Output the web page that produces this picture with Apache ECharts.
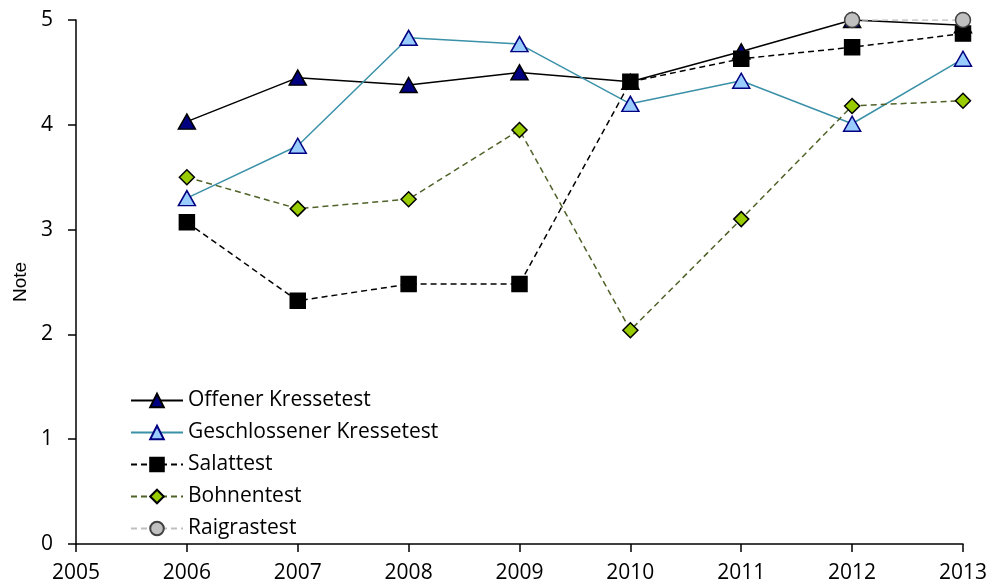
<!DOCTYPE html>
<html>
<head>
<meta charset="utf-8">
<script src="https://cdn.jsdelivr.net/npm/echarts@6/dist/echarts.min.js"></script>
<style>
  html, body { margin: 0; padding: 0; background: #fff; }
  #chart { width: 990px; height: 586px; }
</style>
</head>
<body>
<div id="chart"></div>
<script>
// Jahre und Noten je Testverfahren
var years = [2006, 2007, 2008, 2009, 2010, 2011, 2012, 2013];
var offenerKresse = [4.03, 4.45, 4.38, 4.50, 4.41, 4.70, 5.00, 4.95];
var geschlossenerKresse = [3.30, 3.80, 4.83, 4.77, 4.20, 4.42, 4.01, 4.63];
var salat = [3.07, 2.32, 2.48, 2.48, 4.41, 4.63, 4.74, 4.87];
var bohnen = [3.50, 3.20, 3.29, 3.95, 2.04, 3.10, 4.18, 4.23];
var raigras = [null, null, null, null, null, null, 5.00, 5.00];

var FONT = '"Open Sans", sans-serif';

function pairs(vals) {
  var out = [];
  for (var i = 0; i < years.length; i++) {
    if (vals[i] !== null) out.push([years[i], vals[i]]);
  }
  return out;
}

function lineSeries(name, vals, opts) {
  return {
    name: name,
    type: 'line',
    data: pairs(vals),
    symbol: opts.symbol,
    symbolSize: opts.size,
    lineStyle: { color: opts.line, width: 1.5, type: opts.dash ? [6, 4] : 'solid' },
    itemStyle: { color: opts.fill, borderColor: opts.border, borderWidth: 1.5 },
    emphasis: { disabled: true },
    animation: false
  };
}

var chart = echarts.init(document.getElementById('chart'));
chart.setOption({
  backgroundColor: '#fff',
  grid: { left: 76, right: 27, top: 20, bottom: 42 },
  legend: {
    orient: 'vertical',
    left: 130,
    top: 390,
    padding: 0,
    itemWidth: 52,
    itemHeight: 17,
    itemGap: 11,
    textStyle: { fontFamily: FONT, fontSize: 21, lineHeight: 20, color: '#000' },
    data: ['Offener Kressetest', 'Geschlossener Kressetest', 'Salattest', 'Bohnentest', 'Raigrastest']
  },
  xAxis: {
    type: 'value',
    min: 2005,
    max: 2013,
    interval: 1,
    axisLine: { lineStyle: { color: '#000', width: 1.5 } },
    axisTick: { show: true, length: 8, lineStyle: { color: '#000', width: 1.5 } },
    axisLabel: { color: '#000', fontFamily: FONT, fontSize: 21, margin: 19, formatter: function (v) { return String(v); } },
    splitLine: { show: false }
  },
  yAxis: {
    type: 'value',
    min: 0,
    max: 5,
    interval: 1,
    name: 'Note',
    nameLocation: 'middle',
    nameGap: 46,
    nameTextStyle: { color: '#000', fontFamily: '"Liberation Sans", Arial, sans-serif', fontSize: 19 },
    axisLine: { show: true, lineStyle: { color: '#000', width: 1.5 } },
    axisTick: { show: true, length: 8, lineStyle: { color: '#000', width: 1.5 } },
    axisLabel: { color: '#000', fontFamily: FONT, fontSize: 21, margin: 23 },
    splitLine: { show: false }
  },
  series: [
    lineSeries('Offener Kressetest', offenerKresse, { symbol: 'triangle', size: [17, 15], line: '#000', fill: '#000080', border: '#000', dash: false }),
    lineSeries('Geschlossener Kressetest', geschlossenerKresse, { symbol: 'triangle', size: [17, 15], line: '#3A91A8', fill: '#99CCFF', border: '#000080', dash: false }),
    lineSeries('Salattest', salat, { symbol: 'rect', size: 15, line: '#000', fill: '#000', border: '#000', dash: true }),
    lineSeries('Bohnentest', bohnen, { symbol: 'diamond', size: 15, line: '#4F6228', fill: '#99CC00', border: '#000', dash: true }),
    lineSeries('Raigrastest', raigras, { symbol: 'circle', size: 15, line: '#BFBFBF', fill: '#C0C0C0', border: '#404040', dash: true })
  ]
});
</script>
</body>
</html>
